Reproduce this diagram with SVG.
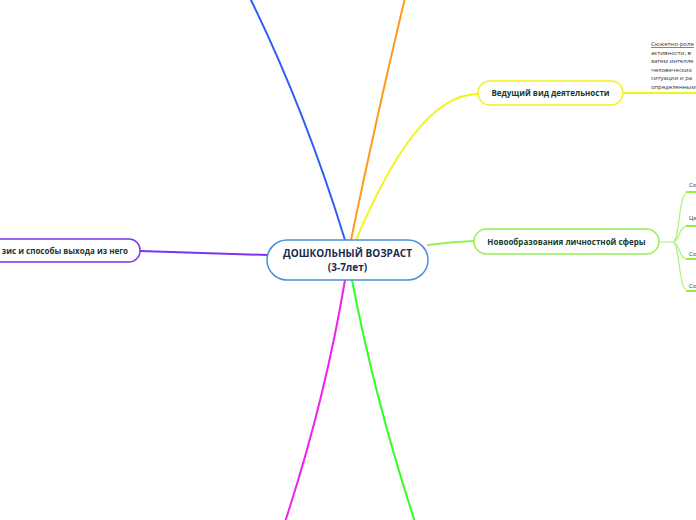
<svg xmlns="http://www.w3.org/2000/svg" width="696" height="520" viewBox="0 0 696 520">
<style>
.node{fill:#fff;stroke-width:1.5}
.lbl{font-family:"Open Sans","Noto Sans","DejaVu Sans",sans-serif;font-weight:bold;fill:#163b32;font-size:8px}
.small{font-family:"Open Sans","Noto Sans","DejaVu Sans",sans-serif;fill:#333;font-size:6px}
.conn{fill:none;stroke-width:2;stroke-linecap:round}
</style>
<rect width="696" height="520" fill="#fff"/>
<g id="connectors">
<path class="conn" d="M345,240 Q305,110 250,-2" stroke="#2f5cf5"/>
<path class="conn" d="M351,240 Q378,110 405,-2" stroke="#ff9a1f"/>
<path class="conn" d="M356,240 C390,160 430,94 478,94" stroke="#f3f31a" stroke-width="1.5"/>
<path class="conn" d="M428,245 Q450,242 474,241" stroke="#99ee55" stroke-width="1.5"/>
<path class="conn" d="M140,251 L267,255" stroke="#7b33f0" stroke-width="1.6"/>
<path class="conn" d="M345,280 Q325,400 285,522" stroke="#ee22ee"/>
<path class="conn" d="M352,280 Q375,400 415,522" stroke="#33ff22"/>
<path class="conn" d="M623,93 L650,93" stroke="#f3f31a" stroke-width="1"/>
<path class="conn" d="M650,93 L698,93" stroke="#f3f31a" stroke-width="2"/>
<path d="M659,242 L673,242 C680,242 678,192 688,192 M673,242 C680,242 678,226 688,226 M673,242 C680,242 678,259 688,259 M673,242 C680,242 678,291 688,291" fill="none" stroke="#b0f07a" stroke-width="1.2"/>
<path d="M686,192 H698 M686,226 H698 M686,259 H698 M686,291 H698" fill="none" stroke="#99ee44" stroke-width="2"/>
</g>
<g id="center">
<rect class="node" x="267" y="240" width="161" height="40" rx="20" stroke="#4a8fd8"/>
<text x="347.5" y="257" text-anchor="middle" font-family="'Open Sans','Noto Sans',sans-serif" font-weight="bold" font-size="10" fill="#1b2a4a">ДОШКОЛЬНЫЙ ВОЗРАСТ</text>
<text x="347.5" y="271" text-anchor="middle" font-family="'Open Sans','Noto Sans',sans-serif" font-weight="bold" font-size="10" fill="#1b2a4a">(3-7лет)</text>
</g>
<g id="crisis">
<rect class="node" x="-30" y="239" width="170" height="23" rx="11" stroke="#7b33f0"/>
<text class="lbl" x="128" y="254" text-anchor="end">зис и способы выхода из него</text>
</g>
<g id="leading">
<rect class="node" x="478" y="81" width="145" height="24" rx="12" stroke="#f3f31a"/>
<text class="lbl" x="550.5" y="96" text-anchor="middle">Ведущий вид деятельности</text>
</g>
<g id="leading-note">
<text class="small" x="651" y="46" text-decoration="underline">Сюжетно-роле</text>
<text class="small" x="651" y="55">активности, в</text>
<text class="small" x="651" y="63">затем интелле</text>
<text class="small" x="651" y="72">человеческих</text>
<text class="small" x="651" y="80">ситуации и ра</text>
<text class="small" x="651" y="89">определенным</text>
</g>
<g id="personal">
<rect class="node" x="474" y="229" width="185" height="25" rx="12.5" stroke="#99ee55"/>
<text class="lbl" x="566.5" y="245" text-anchor="middle">Новообразования личностной сферы</text>
</g>
<g id="personal-children">
<text class="small" x="689" y="187">Со</text>
<text class="small" x="689" y="220">Це</text>
<text class="small" x="689" y="256">Со</text>
<text class="small" x="689" y="288">Со</text>
</g>
</svg>
